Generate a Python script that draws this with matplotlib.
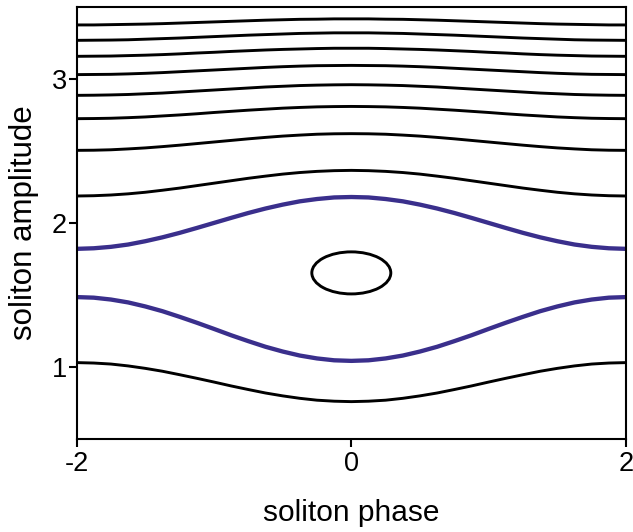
import matplotlib
matplotlib.use("Agg")
import matplotlib.pyplot as plt
from matplotlib.patches import Ellipse

plt.rcParams["font.family"] = ["Liberation Sans", "DejaVu Sans"]

# soliton phase sample positions
phase = [-2.0, -1.875, -1.75, -1.625, -1.5, -1.375, -1.25, -1.125, -1.0,
         -0.875, -0.75, -0.625, -0.5, -0.375, -0.25, -0.125, 0.0,
         0.125, 0.25, 0.375, 0.5, 0.625, 0.75, 0.875, 1.0,
         1.125, 1.25, 1.375, 1.5, 1.625, 1.75, 1.875, 2.0]

# black trajectories (amplitude vs phase)
amp_c1 = [3.373, 3.373, 3.375, 3.377, 3.379, 3.382, 3.386, 3.390, 3.394,
          3.398, 3.402, 3.406, 3.409, 3.412, 3.413, 3.415, 3.415,
          3.415, 3.413, 3.412, 3.409, 3.406, 3.402, 3.398, 3.394,
          3.390, 3.386, 3.382, 3.379, 3.377, 3.375, 3.373, 3.373]
amp_c2 = [3.266, 3.267, 3.268, 3.270, 3.274, 3.278, 3.282, 3.287, 3.292,
          3.297, 3.302, 3.306, 3.310, 3.314, 3.316, 3.318, 3.318,
          3.318, 3.316, 3.314, 3.310, 3.306, 3.302, 3.297, 3.292,
          3.287, 3.282, 3.278, 3.274, 3.270, 3.268, 3.267, 3.266]
amp_c3 = [3.155, 3.156, 3.157, 3.160, 3.163, 3.167, 3.172, 3.178, 3.183,
          3.189, 3.194, 3.199, 3.203, 3.206, 3.209, 3.211, 3.211,
          3.211, 3.209, 3.206, 3.203, 3.199, 3.194, 3.189, 3.183,
          3.178, 3.172, 3.167, 3.163, 3.160, 3.157, 3.156, 3.155]
amp_c4 = [3.028, 3.029, 3.030, 3.033, 3.037, 3.042, 3.048, 3.054, 3.060,
          3.066, 3.072, 3.078, 3.083, 3.087, 3.090, 3.091, 3.092,
          3.091, 3.090, 3.087, 3.083, 3.078, 3.072, 3.066, 3.060,
          3.054, 3.048, 3.042, 3.037, 3.033, 3.030, 3.029, 3.028]
amp_c5 = [2.884, 2.885, 2.887, 2.890, 2.895, 2.900, 2.907, 2.914, 2.921,
          2.928, 2.935, 2.942, 2.947, 2.952, 2.955, 2.957, 2.958,
          2.957, 2.955, 2.952, 2.947, 2.942, 2.935, 2.928, 2.921,
          2.914, 2.907, 2.900, 2.895, 2.890, 2.887, 2.885, 2.884]
amp_c6 = [2.722, 2.723, 2.725, 2.729, 2.734, 2.741, 2.748, 2.756, 2.765,
          2.773, 2.781, 2.788, 2.795, 2.800, 2.804, 2.806, 2.807,
          2.806, 2.804, 2.800, 2.795, 2.788, 2.781, 2.773, 2.765,
          2.756, 2.748, 2.741, 2.734, 2.729, 2.725, 2.723, 2.722]
amp_c7 = [2.502, 2.503, 2.506, 2.512, 2.519, 2.528, 2.538, 2.549, 2.560,
          2.571, 2.582, 2.592, 2.601, 2.608, 2.614, 2.617, 2.618,
          2.617, 2.614, 2.608, 2.601, 2.592, 2.582, 2.571, 2.560,
          2.549, 2.538, 2.528, 2.519, 2.512, 2.506, 2.503, 2.502]
amp_c8 = [2.185, 2.187, 2.192, 2.200, 2.211, 2.225, 2.240, 2.257, 2.274,
          2.291, 2.308, 2.323, 2.337, 2.348, 2.356, 2.361, 2.363,
          2.361, 2.356, 2.348, 2.337, 2.323, 2.308, 2.291, 2.274,
          2.257, 2.240, 2.225, 2.211, 2.200, 2.192, 2.187, 2.185]
amp_low = [1.028, 1.025, 1.018, 1.005, 0.988, 0.968, 0.944, 0.919, 0.893,
           0.866, 0.841, 0.817, 0.797, 0.780, 0.767, 0.760, 0.757,
           0.760, 0.767, 0.780, 0.797, 0.817, 0.841, 0.866, 0.893,
           0.919, 0.944, 0.968, 0.988, 1.005, 1.018, 1.025, 1.028]

# separatrix (blue)
sep_upper = [1.818, 1.822, 1.832, 1.848, 1.871, 1.898, 1.929, 1.963, 1.998,
             2.033, 2.067, 2.098, 2.125, 2.148, 2.164, 2.175, 2.178,
             2.175, 2.164, 2.148, 2.125, 2.098, 2.067, 2.033, 1.998,
             1.963, 1.929, 1.898, 1.871, 1.848, 1.832, 1.822, 1.818]
sep_lower = [1.483, 1.479, 1.466, 1.446, 1.418, 1.385, 1.346, 1.305, 1.262,
             1.218, 1.177, 1.138, 1.105, 1.077, 1.057, 1.044, 1.040,
             1.044, 1.057, 1.077, 1.105, 1.138, 1.177, 1.218, 1.262,
             1.305, 1.346, 1.385, 1.418, 1.446, 1.466, 1.479, 1.483]

# closed orbit around the fixed point
orbit_center = (0.0, 1.651)
orbit_width = 0.575
orbit_height = 0.292

x_ticks = [-2, 0, 2]
x_ticklabels = ["-2", "0", "2"]
y_ticks = [1, 2, 3]
y_ticklabels = ["1", "2", "3"]

BLUE = "#3a2f8c"

fig = plt.figure(figsize=(6.33, 5.32), dpi=100)
ax = fig.add_axes([0.121, 0.1755, 0.868, 0.812])

for amp in [amp_c1, amp_c2, amp_c3, amp_c4, amp_c5, amp_c6, amp_c7, amp_c8, amp_low]:
    ax.plot(phase, amp, color="black", lw=2.1, solid_capstyle="butt",
            solid_joinstyle="round")
for amp in [sep_upper, sep_lower]:
    ax.plot(phase, amp, color=BLUE, lw=3.1, solid_capstyle="butt",
            solid_joinstyle="round")

ax.add_patch(Ellipse(orbit_center, orbit_width, orbit_height, fill=False,
                     edgecolor="black", lw=2.1))

ax.set_xlim(-2, 2)
ax.set_ylim(0.5, 3.5)
ax.set_xticks(x_ticks)
ax.set_xticklabels(x_ticklabels)
ax.set_yticks(y_ticks)
ax.set_yticklabels(y_ticklabels)
ax.tick_params(axis="both", direction="out", length=6, width=1.5, labelsize=19.5)
ax.tick_params(axis="x", pad=3)
ax.tick_params(axis="y", pad=1)
for sp in ax.spines.values():
    sp.set_linewidth(1.5)

ax.set_xlabel("soliton phase", fontsize=21.5, labelpad=16)
ax.set_ylabel("soliton amplitude", fontsize=22.5, labelpad=9)

fig.savefig("out.png", dpi=100)
